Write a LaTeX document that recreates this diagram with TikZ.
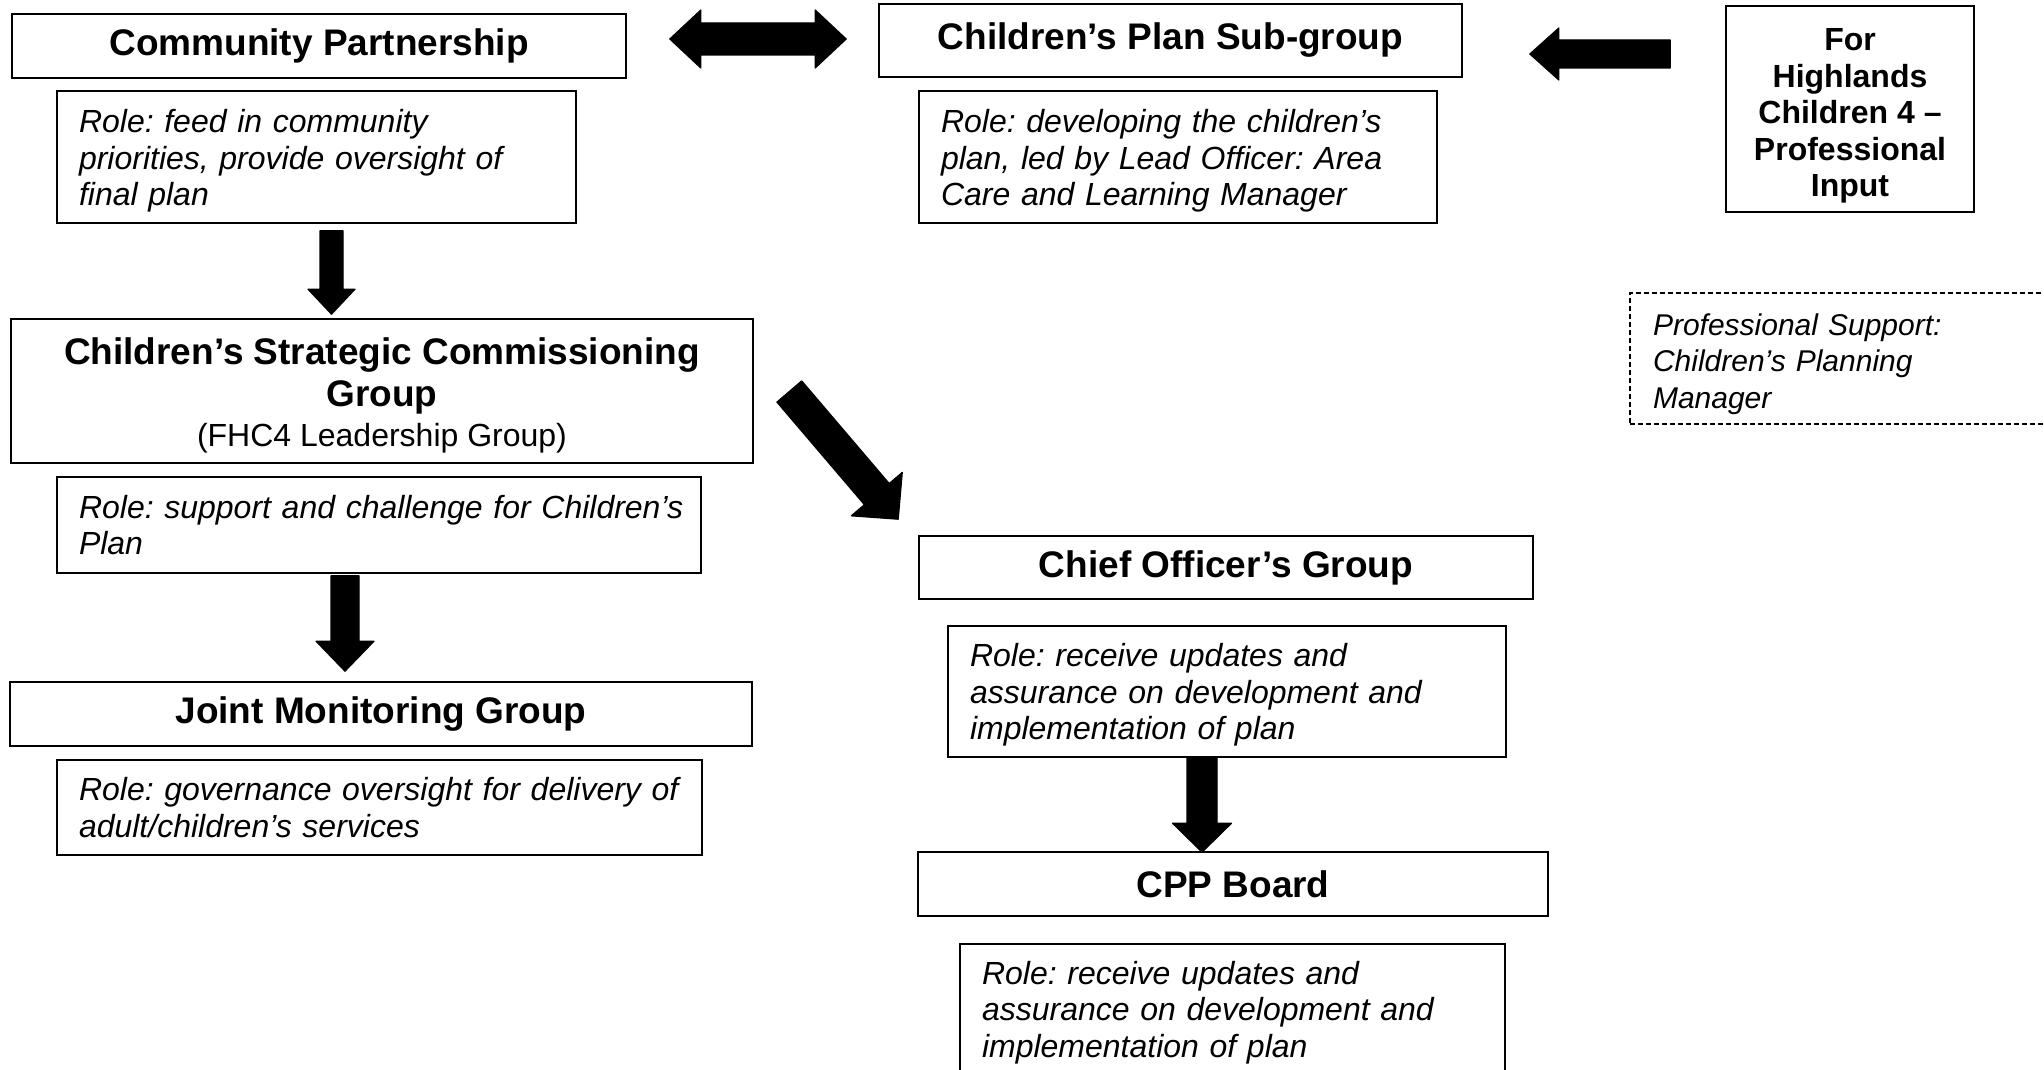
\documentclass[tikz,border=0pt]{standalone}
\usepackage{fontspec}
\setmainfont{Liberation Sans}
\usetikzlibrary{calc}
\frenchspacing
\tikzset{
  titlebox/.style={draw, line width=0.8pt, inner sep=0pt, align=center,
    font=\fontsize{18.5pt}{21pt}\selectfont\bfseries},
  rolebox/.style={draw, line width=0.8pt, inner xsep=11pt, inner ysep=0pt, align=left,
    font=\fontsize{16pt}{18.25pt}\selectfont\itshape\frenchspacing},
  supportbox/.style={draw, line width=0.6pt, dash pattern=on 2.5pt off 1.5pt, inner xsep=11.5pt,
    inner ysep=0pt, align=left, font=\fontsize{15pt}{18.25pt}\selectfont\itshape\frenchspacing},
  plainbox/.style={draw, line width=0.8pt, inner sep=0pt},
  fhctext/.style={align=center, inner sep=0pt, font=\fontsize{16pt}{18.25pt}\selectfont\bfseries},
  blockfill/.style={fill=black, draw=black, line width=0.6pt, line join=round},
}
\newcommand\topstrut[1]{\rule{0pt}{#1}}
% #1 from, #2 to, #3 shaft half width, #4 head half width, #5 head length
\newcommand\blockarrow[5]{%
  \coordinate (bas) at (#1);
  \coordinate (bae) at (#2);
  \coordinate (bah) at ($(bae)!#5!(bas)$);
  \path[blockfill] ($(bas)!#3!90:(bae)$) -- ($(bah)!#3!-90:(bas)$) -- ($(bah)!#4!-90:(bas)$)
    -- (bae) -- ($(bah)!#4!90:(bas)$) -- ($(bah)!#3!90:(bas)$) -- ($(bas)!#3!-90:(bae)$) -- cycle;
}
\newcommand\doubleblockarrow[5]{%
  \coordinate (das) at (#1);
  \coordinate (dae) at (#2);
  \coordinate (dahs) at ($(das)!#5!(dae)$);
  \coordinate (dahe) at ($(dae)!#5!(das)$);
  \path[blockfill] (das) -- ($(dahs)!#4!90:(dae)$) -- ($(dahs)!#3!90:(dae)$)
    -- ($(dahe)!#3!-90:(das)$) -- ($(dahe)!#4!-90:(das)$) -- (dae)
    -- ($(dahe)!#4!90:(das)$) -- ($(dahe)!#3!90:(das)$)
    -- ($(dahs)!#3!-90:(dae)$) -- ($(dahs)!#4!-90:(dae)$) -- cycle;
}
\begin{document}
\begin{tikzpicture}[x=0.5pt,y=-0.5pt]
\useasboundingbox (0,0) rectangle (2044,1070);
\fill[white] (0,0) rectangle (2044,1070);
\clip (0,0) rectangle (2044,1070);

% top row
\node[titlebox, minimum width=307pt, minimum height=32pt] (cp) at (319,46) {Community Partnership};
\node[rolebox, text width=237.5pt, minimum height=66pt] (r1) at (316.5,157)
  {\mbox{\topstrut{15.5pt}Role: feed in community}\\\mbox{priorities, provide oversight of}\\\mbox{final plan}};
\node[titlebox, minimum width=291.5pt, minimum height=36.5pt] (cpsg) at (1170.5,40.5) {Children’s Plan Sub-group};
\node[rolebox, text width=237pt, minimum height=66pt] (r2) at (1178,157)
  {\mbox{\topstrut{15.5pt}Role: developing the children’s}\\\mbox{plan, led by Lead Officer: Area}\\\mbox{Care and Learning Manager}};
\node[plainbox, minimum width=124pt, minimum height=103pt] (fhc) at (1850,109) {};
\node[fhctext] (fhct) at ($(fhc.center)+(0,7)$) {For\\Highlands\\Children 4 –\\Professional\\Input};
\node[supportbox, text width=207pt, minimum height=65.5pt] (ps) at (1860,358.5)
  {\mbox{\topstrut{16.5pt}Professional Support:}\\\mbox{Children’s Planning}\\\mbox{Manager}};

% left column
\node[titlebox, minimum width=371pt, minimum height=72pt] (cscg) at (382,391)
  {\topstrut{18pt}Children’s Strategic Commissioning\\Group\\[-1pt]{\fontsize{16pt}{18pt}\selectfont\mdseries (FHC4 Leadership Group)}};
\node[rolebox, text width=300pt, minimum height=48pt] (r3) at (379,525)
  {\mbox{Role: support and challenge for Children’s}\\\mbox{Plan}};
\node[titlebox, minimum width=371pt, minimum height=32pt] (jmg) at (381,714) {Joint Monitoring Group};
\node[rolebox, text width=300.5pt, minimum height=47.5pt] (r4) at (379.5,807.5)
  {\mbox{Role: governance oversight for delivery of}\\\mbox{adult/children’s services}};

% right column
\node[titlebox, minimum width=307pt, minimum height=31.5pt] (co) at (1226,567.5) {Chief Officer’s Group};
\node[rolebox, text width=257pt, minimum height=65.5pt] (r5) at (1227,691.5)
  {\mbox{\topstrut{15pt}Role: receive updates and}\\\mbox{assurance on development and}\\\mbox{implementation of plan}};
\node[titlebox, minimum width=315pt, minimum height=32pt] (cpp) at (1233,884) {CPP Board};
\node[rolebox, text width=250.5pt, minimum height=65pt] (r6) at (1232.5,1009)
  {\mbox{\topstrut{15pt}Role: receive updates and}\\\mbox{assurance on development and}\\\mbox{implementation of plan}};

% block arrows
\doubleblockarrow{$(cp.east)+(43,-7)$}{$(cpsg.west)+(-32,-1.5)$}{8pt}{14.5pt}{15.5pt}
\blockarrow{$(fhc.west)+(-55,-55)$}{$(cpsg.east)+(67,13.5)$}{7pt}{13pt}{14.5pt}
\blockarrow{$(r1.south)+(15,7)$}{$(cscg.north)+(-50.5,-4)$}{5.75pt}{11.75pt}{12.5pt}
\blockarrow{$(r3.south)+(-34,2)$}{$(jmg.north)+(-36,-10)$}{7pt}{14.5pt}{15pt}
\blockarrow{$(cscg.east)+(35.5,0.5)$}{$(co.north west)+(-20,-16)$}{8.15pt}{16.75pt}{16.5pt}
\blockarrow{$(r5.south)+(-25,0)$}{$(cpp.north)+(-31,1)$}{7.5pt}{14.75pt}{14.5pt}
\end{tikzpicture}
\end{document}
